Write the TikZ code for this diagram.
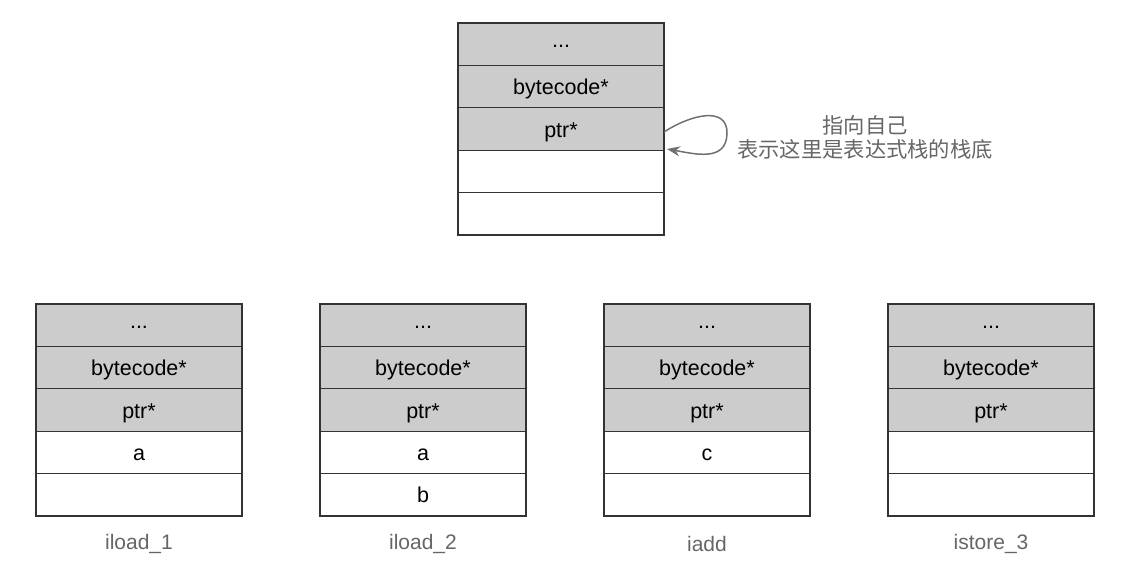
\documentclass[tikz,border=0pt]{standalone}
\usepackage{fontspec}
\setmainfont{Liberation Sans}
\newfontfamily\cjk{Noto Sans CJK SC}
\usetikzlibrary{positioning,arrows.meta}
\definecolor{cellgray}{HTML}{CCCCCC}
\definecolor{edgecol}{HTML}{333333}
\definecolor{labgray}{HTML}{666666}
\definecolor{arrgray}{HTML}{707070}
\tikzset{
  cell/.style={draw=edgecol, line width=1.3pt, minimum width=206pt, minimum height=42.4pt,
    inner sep=0pt, outer sep=0pt, font=\fontsize{21.5}{25}\selectfont, text=black,
    text height=16pt, text depth=0pt},
  gcell/.style={cell, fill=cellgray},
  wcell/.style={cell, fill=white},
  dotcell/.style={gcell, text height=6pt},
  oplabel/.style={font=\fontsize{21}{25}\selectfont, text=labgray},
  note/.style={font=\cjk\fontsize{21.3}{24}\selectfont, text=labgray, align=center},
  selfarrow/.style={draw=arrgray, line width=1.5pt, -{Stealth[length=13pt,width=10pt]}}
}
\newcommand\mystack[5]{%
  \node[dotcell, anchor=north west] (#1-1) at (#2,#3) {...};
  \node[gcell, below=0pt of #1-1] (#1-2) {bytecode*};
  \node[gcell, below=0pt of #1-2] (#1-3) {ptr*};
  \node[wcell, below=0pt of #1-3] (#1-4) {#4};
  \node[wcell, below=0pt of #1-4] (#1-5) {#5};
}
\begin{document}
\begin{tikzpicture}[x=1pt,y=-1pt]
\useasboundingbox (0,0) rectangle (1134,574);
\mystack{top}{458}{23}{}{}
\mystack{s1}{36}{304}{a}{}
\mystack{s2}{320}{304}{a}{b}
\mystack{s3}{604}{304}{c}{}
\mystack{s4}{888}{304}{}{}
\node[oplabel] (l1) at (139,544) {iload\_1};
\node[oplabel] (l2) at (423,544) {iload\_2};
\node[oplabel] (l3) at (707,544) {iadd};
\node[oplabel] (l4) at (991,544) {istore\_3};
\node[note] (n) at (865,137) {指向自己\\表示这里是表达式栈的栈底};
\coordinate (tip) at (667,149);
\draw[selfarrow] ([yshift=-3pt]top-3.east) .. controls (690,115) and (728,105) .. (727,134)
  .. controls (726,162) and (695,154) .. (tip);
\end{tikzpicture}
\end{document}
